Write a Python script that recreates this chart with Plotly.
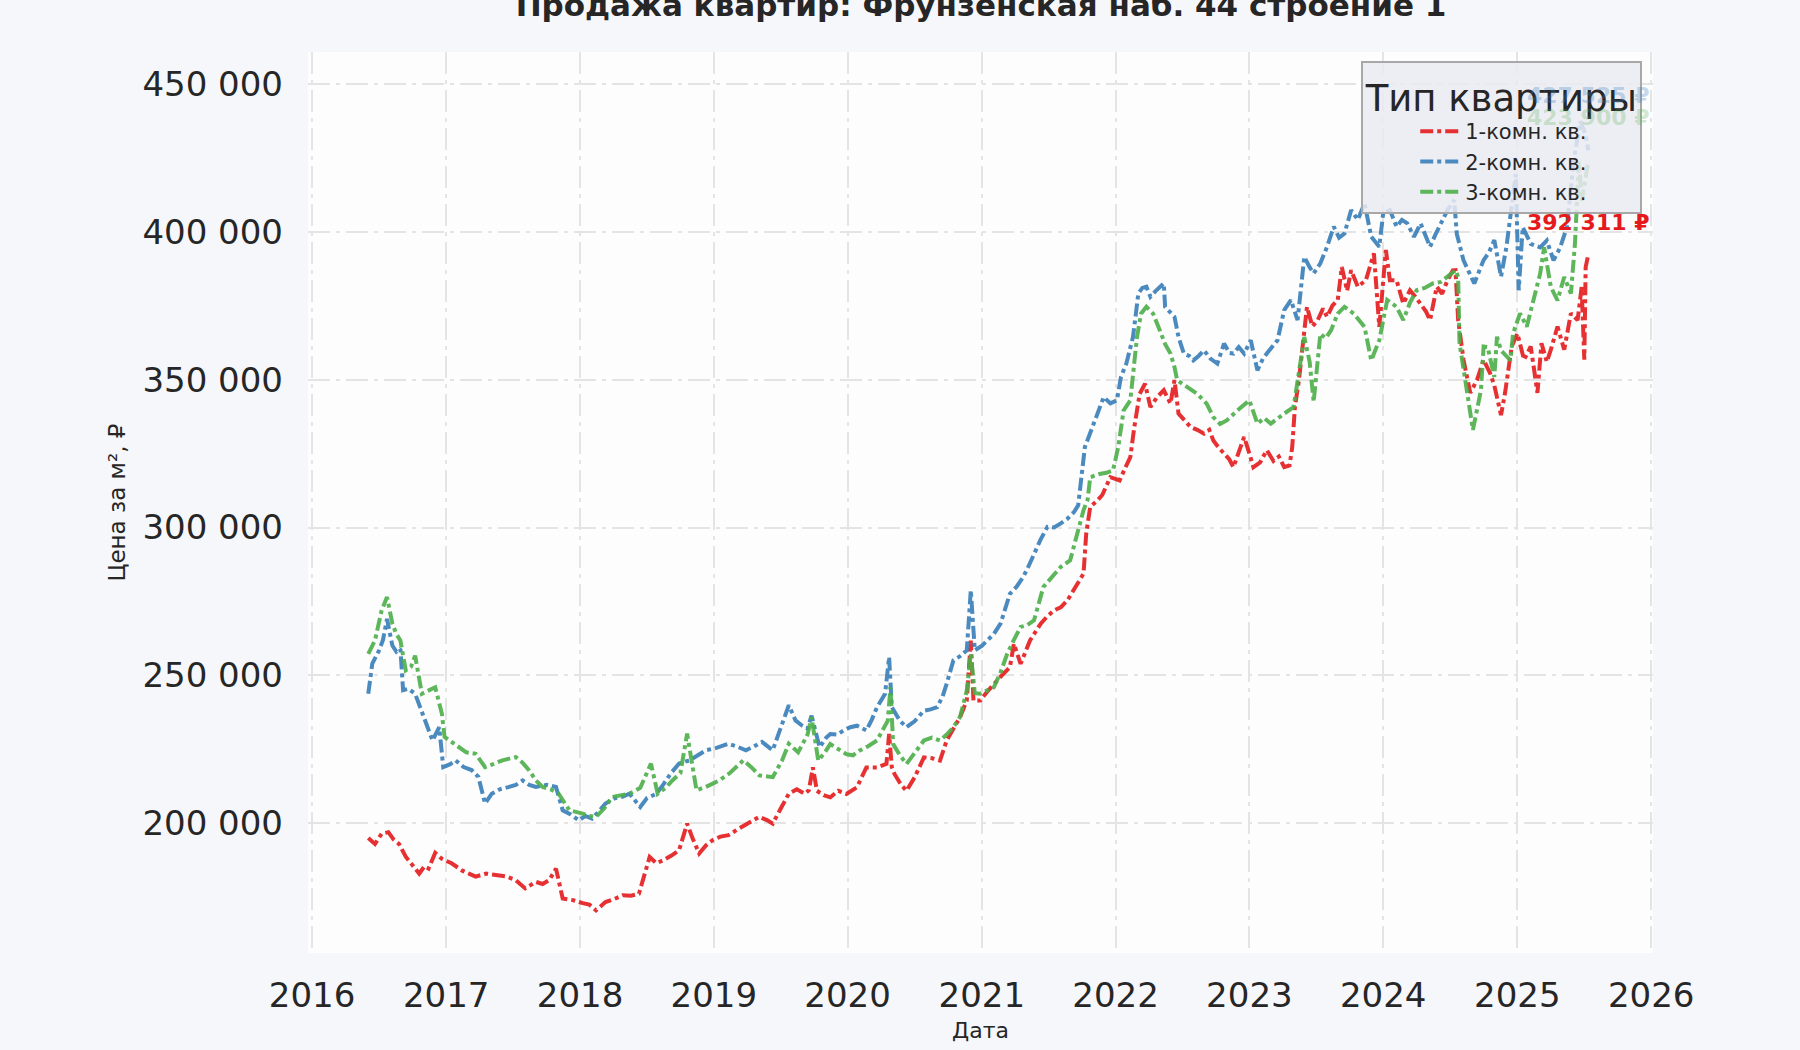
import pandas as pd
import plotly.graph_objects as go

TITLE = "Продажа квартир: Фрунзенская наб. 44 строение 1"
SERIES_NAMES = ["1-комн. кв.", "2-комн. кв.", "3-комн. кв."]
COLORS = ["#e41a1c", "#377eb8", "#4daf4a"]
YEAR_TICKS = list(range(2016, 2027))

# dates are given as decimal years, prices in rub per m2
red_t = [2016.42, 2016.47, 2016.52, 2016.57, 2016.61, 2016.65, 2016.70, 2016.75, 2016.80, 2016.84,
         2016.87, 2016.92, 2016.97, 2017.04, 2017.12, 2017.17, 2017.22, 2017.30, 2017.37, 2017.45,
         2017.52, 2017.59, 2017.67, 2017.72, 2017.77, 2017.82, 2017.87, 2017.95, 2018.02, 2018.07,
         2018.12, 2018.19, 2018.26, 2018.32, 2018.38, 2018.44, 2018.52, 2018.57, 2018.62, 2018.68,
         2018.74, 2018.80, 2018.84, 2018.89, 2018.94, 2018.99, 2019.05, 2019.11, 2019.18, 2019.26,
         2019.34, 2019.40, 2019.44, 2019.50, 2019.56, 2019.62, 2019.68, 2019.71, 2019.74, 2019.77,
         2019.82, 2019.87, 2019.93, 2019.99, 2020.07, 2020.14, 2020.22, 2020.29, 2020.31, 2020.33,
         2020.35, 2020.40, 2020.44, 2020.50, 2020.57, 2020.63, 2020.69, 2020.74, 2020.79, 2020.84,
         2020.89, 2020.92, 2020.94, 2020.99, 2021.04, 2021.09, 2021.15, 2021.21, 2021.24, 2021.29,
         2021.36, 2021.44, 2021.49, 2021.54, 2021.59, 2021.64, 2021.71, 2021.76, 2021.78, 2021.81,
         2021.86, 2021.90, 2021.96, 2022.03, 2022.07, 2022.11, 2022.14, 2022.18, 2022.22, 2022.26,
         2022.31, 2022.36, 2022.41, 2022.44, 2022.47, 2022.52, 2022.56, 2022.61, 2022.66, 2022.70,
         2022.73, 2022.77, 2022.81, 2022.85, 2022.88, 2022.92, 2022.96, 2023.00, 2023.03, 2023.08,
         2023.13, 2023.18, 2023.22, 2023.26, 2023.30, 2023.32, 2023.34, 2023.37, 2023.40, 2023.43,
         2023.47, 2023.51, 2023.55, 2023.58, 2023.62, 2023.66, 2023.69, 2023.73, 2023.76, 2023.81,
         2023.87, 2023.93, 2023.97, 2024.02, 2024.05, 2024.10, 2024.15, 2024.20, 2024.24, 2024.28,
         2024.32, 2024.35, 2024.40, 2024.44, 2024.48, 2024.52, 2024.54, 2024.56, 2024.60, 2024.65,
         2024.70, 2024.75, 2024.80, 2024.83, 2024.88, 2024.91, 2024.96, 2025.00, 2025.05, 2025.10,
         2025.15, 2025.18, 2025.22, 2025.25, 2025.30, 2025.35, 2025.40, 2025.45, 2025.48, 2025.50,
         2025.51, 2025.53]
red_v = [195000, 193000, 196500, 197000, 194500, 193000, 188700, 186000, 183000, 185500,
         184700, 190000, 188000, 186500, 184000, 183000, 182000, 183000, 182500, 182000,
         180800, 178000, 180200, 179500, 180800, 184700, 174600, 174000, 173000, 172500,
         170600, 173400, 174500, 175700, 175500, 176200, 188600, 186500, 187500, 189000,
         190900, 199900, 195000, 189800, 192500, 194300, 195500, 196000, 198000, 200000,
         202200, 201000, 199900, 205000, 210000, 211500, 210000, 211200, 218900, 211000,
         209500, 208800, 211000, 209900, 212200, 218900, 218900, 220100, 230200, 219000,
         216700, 213000, 211000, 215500, 222300, 222000, 221200, 228000, 232000, 235900,
         241500, 261800, 241500, 241500, 244500, 247200, 250000, 252800, 260700, 253900,
         261800, 267500, 270000, 272000, 273000, 275400, 281000, 284400, 298000, 307000,
         309000, 311000, 317000, 315900, 320000, 323800, 334000, 345200, 348600, 340700,
         344100, 346400, 341900, 349800, 338500, 336000, 334000, 333000, 331700, 333000,
         329400, 327000, 324900, 323000, 320400, 326000, 330600, 325000, 320400, 322000,
         326100, 322500, 324000, 320400, 321000, 327200, 340700, 349800, 362000, 374600,
         368000, 370100, 374000, 371200, 375000, 376900, 388100, 380000, 387000, 381400,
         383600, 392700, 367800, 393800, 383600, 383600, 375700, 380200, 378000, 375700,
         373000, 370100, 381400, 379000, 383600, 386900, 387000, 370100, 356700, 345500,
         349800, 356700, 352000, 348000, 338000, 345500, 361200, 365600, 356700, 361200,
         345500, 362300, 356000, 360100, 367900, 360100, 372400, 370100, 381300, 356700,
         388000, 392311]

blue_t = [2016.42, 2016.45, 2016.50, 2016.53, 2016.56, 2016.60, 2016.63, 2016.66, 2016.68, 2016.72,
          2016.77, 2016.80, 2016.83, 2016.87, 2016.90, 2016.95, 2016.98, 2017.03, 2017.07, 2017.13,
          2017.19, 2017.24, 2017.29, 2017.34, 2017.40, 2017.47, 2017.52, 2017.57, 2017.62, 2017.67,
          2017.75, 2017.82, 2017.87, 2017.93, 2017.99, 2018.04, 2018.09, 2018.14, 2018.19, 2018.26,
          2018.32, 2018.37, 2018.45, 2018.50, 2018.57, 2018.62, 2018.68, 2018.74, 2018.82, 2018.88,
          2018.94, 2019.02, 2019.11, 2019.17, 2019.24, 2019.30, 2019.36, 2019.44, 2019.50, 2019.56,
          2019.61, 2019.66, 2019.70, 2019.73, 2019.79, 2019.84, 2019.87, 2019.92, 2019.97, 2020.02,
          2020.07, 2020.14, 2020.18, 2020.22, 2020.28, 2020.31, 2020.33, 2020.39, 2020.44, 2020.50,
          2020.57, 2020.62, 2020.67, 2020.71, 2020.74, 2020.79, 2020.84, 2020.89, 2020.92, 2020.95,
          2021.00, 2021.04, 2021.09, 2021.14, 2021.21, 2021.26, 2021.31, 2021.35, 2021.39, 2021.44,
          2021.49, 2021.54, 2021.59, 2021.64, 2021.69, 2021.72, 2021.77, 2021.81, 2021.86, 2021.91,
          2021.96, 2022.01, 2022.04, 2022.08, 2022.13, 2022.17, 2022.20, 2022.23, 2022.26, 2022.30,
          2022.36, 2022.37, 2022.40, 2022.44, 2022.47, 2022.51, 2022.55, 2022.58, 2022.62, 2022.66,
          2022.71, 2022.76, 2022.81, 2022.85, 2022.88, 2022.92, 2022.96, 2023.01, 2023.06, 2023.10,
          2023.13, 2023.17, 2023.21, 2023.26, 2023.31, 2023.36, 2023.41, 2023.45, 2023.48, 2023.53,
          2023.58, 2023.63, 2023.67, 2023.71, 2023.76, 2023.81, 2023.86, 2023.91, 2023.97, 2024.00,
          2024.05, 2024.10, 2024.14, 2024.18, 2024.23, 2024.28, 2024.35, 2024.39, 2024.43, 2024.48,
          2024.53, 2024.55, 2024.60, 2024.64, 2024.68, 2024.75, 2024.79, 2024.83, 2024.88, 2024.92,
          2024.96, 2024.99, 2025.01, 2025.04, 2025.10, 2025.17, 2025.22, 2025.27, 2025.32, 2025.37,
          2025.42, 2025.47, 2025.51, 2025.53]
blue_v = [243800, 254000, 258400, 262000, 269100, 260100, 258000, 259000, 245000, 245500,
          243800, 240000, 236000, 231000, 228000, 232500, 219000, 220000, 221300, 219000,
          218000, 215700, 206700, 210000, 211500, 212300, 213000, 214500, 213000, 212300,
          213000, 212300, 204400, 203000, 201000, 202500, 201600, 204000, 206700, 208500,
          209000, 210000, 205500, 208500, 210000, 213000, 217000, 220200, 221300, 223000,
          224700, 225500, 226900, 226000, 224700, 226000, 227500, 224700, 232000, 239900,
          234800, 233000, 232000, 236400, 225700, 229000, 230200, 230000, 231400, 232500,
          233000, 231400, 235000, 239300, 243800, 256200, 239300, 234700, 232500, 234500,
          238100, 238500, 239300, 243000, 247200, 255100, 256500, 258500, 278800, 258500,
          260000, 261800, 264000, 267500, 277600, 280000, 283300, 287000, 291200, 296000,
          300200, 300000, 301400, 303000, 305300, 307500, 327200, 331700, 338000, 344100,
          342000, 343000, 350900, 355400, 364400, 379100, 381000, 381400, 378000, 380000,
          382500, 374600, 373000, 371200, 364400, 358800, 358000, 356500, 358000, 359900,
          357000, 355400, 362200, 359000, 358800, 361000, 358800, 363300, 353100, 357000,
          358800, 361000, 363300, 373500, 376900, 370100, 391500, 388000, 385900, 389300,
          394900, 401700, 398000, 399400, 407300, 404000, 409600, 398300, 394900, 406200,
          407300, 401700, 404000, 402800, 398300, 402800, 394900, 399000, 402800, 407300,
          410700, 399200, 390300, 386000, 382500, 390400, 393000, 397200, 384800, 394700,
          410400, 419400, 380200, 401500, 395900, 394700, 397000, 390300, 394700, 401500,
          423800, 437300, 432800, 427525]

green_t = [2016.42, 2016.47, 2016.52, 2016.56, 2016.60, 2016.63, 2016.66, 2016.70, 2016.74, 2016.77,
           2016.82, 2016.87, 2016.92, 2016.97, 2016.99, 2017.04, 2017.09, 2017.15, 2017.22, 2017.29,
           2017.35, 2017.42, 2017.52, 2017.57, 2017.62, 2017.67, 2017.72, 2017.78, 2017.84, 2017.92,
           2018.02, 2018.07, 2018.12, 2018.18, 2018.24, 2018.30, 2018.37, 2018.45, 2018.53, 2018.58,
           2018.64, 2018.69, 2018.75, 2018.80, 2018.87, 2018.94, 2019.04, 2019.12, 2019.22, 2019.28,
           2019.34, 2019.44, 2019.51, 2019.56, 2019.63, 2019.70, 2019.73, 2019.78, 2019.83, 2019.87,
           2019.93, 2019.99, 2020.04, 2020.09, 2020.15, 2020.22, 2020.30, 2020.32, 2020.34, 2020.39,
           2020.44, 2020.50, 2020.57, 2020.63, 2020.69, 2020.74, 2020.79, 2020.84, 2020.89, 2020.92,
           2020.95, 2020.99, 2021.04, 2021.09, 2021.14, 2021.19, 2021.24, 2021.29, 2021.34, 2021.39,
           2021.46, 2021.52, 2021.59, 2021.66, 2021.71, 2021.76, 2021.79, 2021.81, 2021.88, 2021.93,
           2021.98, 2022.02, 2022.06, 2022.11, 2022.16, 2022.19, 2022.23, 2022.28, 2022.33, 2022.37,
           2022.41, 2022.44, 2022.46, 2022.53, 2022.61, 2022.68, 2022.73, 2022.78, 2022.83, 2022.91,
           2023.00, 2023.06, 2023.11, 2023.16, 2023.21, 2023.26, 2023.33, 2023.36, 2023.41, 2023.45,
           2023.48, 2023.53, 2023.57, 2023.61, 2023.66, 2023.71, 2023.78, 2023.86, 2023.91, 2023.97,
           2024.03, 2024.10, 2024.15, 2024.20, 2024.25, 2024.31, 2024.37, 2024.43, 2024.48, 2024.54,
           2024.56, 2024.57, 2024.62, 2024.67, 2024.73, 2024.75, 2024.78, 2024.80, 2024.83, 2024.85,
           2024.88, 2024.90, 2024.95, 2024.97, 2025.02, 2025.07, 2025.12, 2025.17, 2025.20, 2025.25,
           2025.30, 2025.35, 2025.40, 2025.43, 2025.46, 2025.48, 2025.51, 2025.53]
green_v = [257300, 261800, 272000, 276500, 267500, 264000, 261800, 251700, 253000, 256700,
           243800, 245000, 246000, 237000, 229200, 227500, 225800, 224000, 223500, 219000,
           220000, 221300, 222400, 220500, 217900, 214500, 212300, 211500, 210000, 204400,
           203300, 202500, 202200, 205000, 208900, 209500, 210000, 212000, 220200, 210000,
           212000, 214500, 217000, 230300, 211200, 212300, 214500, 217000, 221300, 219000,
           216200, 215600, 221300, 226900, 224000, 230000, 235900, 221200, 224000, 226800,
           225000, 223400, 223000, 224600, 226000, 228000, 234700, 246000, 226800, 223000,
           220100, 224000, 228000, 229000, 228000, 230000, 232500, 236000, 244900, 257300,
           244000, 243800, 245000, 246000, 251000, 257300, 262000, 266400, 267000, 268600,
           279900, 283000, 286700, 288900, 298000, 305900, 309300, 317000, 318100, 318500,
           319300, 327200, 339600, 343000, 364400, 372300, 374600, 372300, 366700, 362000,
           358800, 354200, 349800, 347500, 345200, 341900, 337300, 335000, 336200, 339600,
           343000, 335100, 337000, 335100, 337000, 338500, 340700, 349800, 364400, 356000,
           342500, 365500, 364000, 366700, 372300, 374600, 372300, 367800, 356500, 363300,
           376900, 374600, 370100, 376000, 380200, 381000, 382500, 383000, 384800, 387000,
           384700, 362300, 347700, 333000, 346400, 361200, 361000, 356700, 350900, 364500,
           359900, 358900, 356500, 365600, 372400, 367900, 376800, 385800, 394700, 381300,
           376800, 384700, 379100, 395900, 423800, 410400, 418200, 423900]

# label offsets above the last point, px
LABEL_SHIFT = [32, 55, 44]
LABEL_COLORS = ["#e41a1c", "rgba(55,126,184,0.28)", "rgba(77,175,74,0.26)"]


def to_dates(years):
    out = []
    for y in years:
        base = int(y)
        out.append(pd.Timestamp(year=base, month=1, day=1) + pd.Timedelta(days=(y - base) * 365.25))
    return out


series = [(red_t, red_v), (blue_t, blue_v), (green_t, green_v)]

fig = go.Figure()
for name, color, (t, v) in zip(SERIES_NAMES, COLORS, series):
    fig.add_trace(go.Scatter(
        x=to_dates(t), y=v, name=name, mode="lines",
        line=dict(color=color, width=4, dash="13px,4px,4px,4px"), opacity=0.9,
    ))

for (t, v), color, shift in zip(series, LABEL_COLORS, LABEL_SHIFT):
    label = f"{v[-1]:,}".replace(",", " ") + " ₽"
    fig.add_annotation(
        x=to_dates([t[-1]])[0], y=v[-1], text=f"<b>{label}</b>", showarrow=False,
        yshift=shift, font=dict(size=22, color=color, family="DejaVu Sans"),
    )

fig.update_layout(
    width=1800, height=1050,
    paper_bgcolor="#f6f7fb", plot_bgcolor="#fdfdfe",
    margin=dict(l=308, r=147, t=52, b=97),
    font=dict(family="DejaVu Sans", color="#262626"),
    separators=", ",
    title=dict(text=f"<b>{TITLE}</b>", x=0.545, xanchor="center", y=0.995, yanchor="middle",
               yref="container", font=dict(size=31, color="#262626")),
    legend=dict(
        title=dict(text="Тип квартиры", side="top center", font=dict(size=37)),
        font=dict(size=21), x=0.992, xanchor="right", y=0.99, yanchor="top",
        bgcolor="rgba(234,234,242,0.85)", bordercolor="#a8a8a8", borderwidth=2,
        itemwidth=40, tracegroupgap=0, indentation=52,
    ),
    showlegend=True,
)

fig.update_xaxes(
    range=["2015-12-21", "2026-01-06"], type="date", automargin=False,
    tickvals=[pd.Timestamp(year=y, month=1, day=1) for y in YEAR_TICKS],
    ticktext=[str(y) for y in YEAR_TICKS],
    tickfont=dict(size=34), ticklabelstandoff=19,
    showgrid=True, gridcolor="#e4e4e4", gridwidth=2, griddash="22px,6px,4px,6px",
    zeroline=False, showline=False,
    title=dict(text="Дата", font=dict(size=22), standoff=8),
)
fig.update_yaxes(
    range=[156160, 460750], tickvals=[200000, 250000, 300000, 350000, 400000, 450000],
    tickformat=",d", tickfont=dict(size=34), ticklabelstandoff=24, automargin=False,
    showgrid=True, gridcolor="#e4e4e4", gridwidth=2, griddash="22px,6px,4px,6px",
    zeroline=False, showline=False,
    title=dict(text="Цена за м², ₽", font=dict(size=23), standoff=10),
)

fig.write_html("out.html", config={"displayModeBar": False},
               post_script="document.body.style.margin='0';")
